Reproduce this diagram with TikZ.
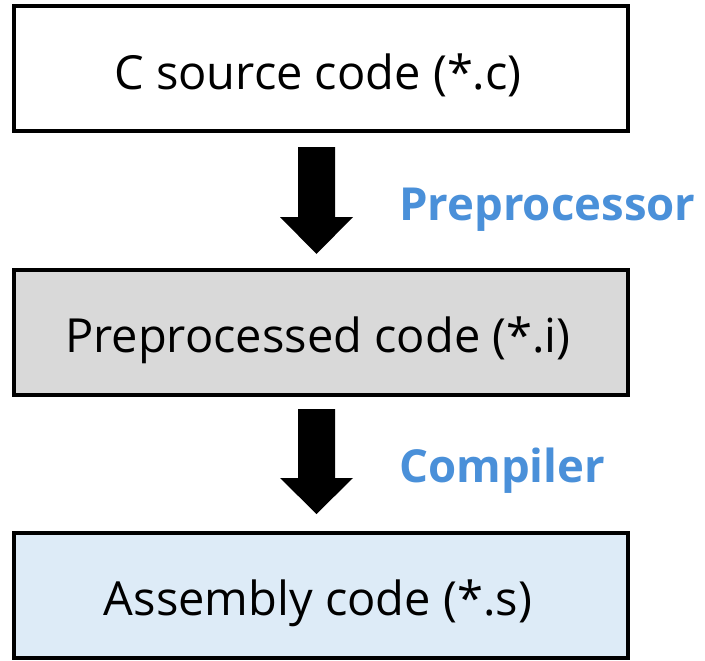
\documentclass[tikz,border=0pt]{standalone}
\usepackage{fontspec}
\setmainfont{Open Sans}
\definecolor{labelblue}{RGB}{74,144,217}
\definecolor{midgray}{RGB}{217,217,217}
\definecolor{paleblue}{RGB}{221,235,247}
\tikzset{
  stagebox/.style={draw=black, line width=4pt, minimum width=614pt, minimum height=125pt,
    inner sep=0pt, text height=40pt, text depth=0pt, font=\fontsize{47}{52}\selectfont},
  fatarrow/.style={fill=black, draw=none},
  steplabel/.style={anchor=base west, text=labelblue, font=\bfseries\fontsize{45.5}{50}\selectfont, inner sep=0pt}
}
\begin{document}
\begin{tikzpicture}[x=1pt, y=-1pt]
  \useasboundingbox (0,0) rectangle (705,661);
  \node[stagebox, fill=white]     (src) at (321,69)  {C source code (*.c)\kern6pt};
  \node[stagebox, fill=midgray]   (pre) at (321,332) {Preprocessed code (*.i)\kern6pt};
  \node[stagebox, fill=paleblue]  (asm) at (321,595) {Assembly code (*.s)\kern6pt};
  % block arrows between the stages
  \coordinate (a1) at (316.5,147);
  \coordinate (a2) at (316.5,409);
  \fill[fatarrow] (a1) ++(-18.5,0) -- ++(37,0) -- ++(0,70) -- ++(18,0) -- (316.5,254) -- (280,217) -- (298,217) -- cycle;
  \fill[fatarrow] (a2) ++(-18.5,0) -- ++(37,0) -- ++(0,69) -- ++(18,0) -- (316.5,514) -- (280,478) -- (298,478) -- cycle;
  \node[steplabel] (lp) at (399,220) {Preprocessor};
  \node[steplabel] (lc) at (399,482) {Compiler};
\end{tikzpicture}
\end{document}
